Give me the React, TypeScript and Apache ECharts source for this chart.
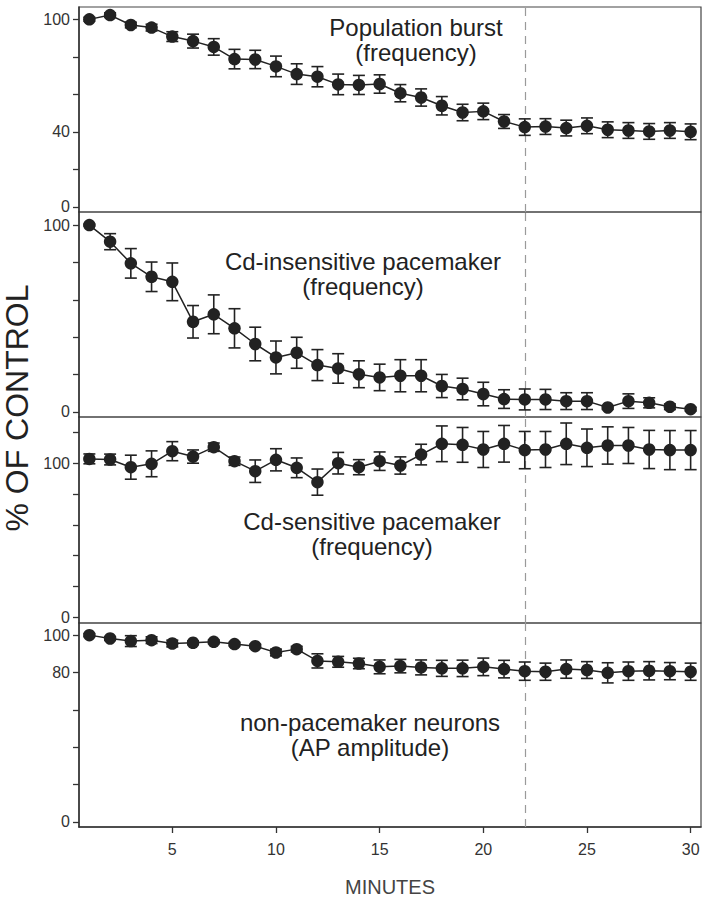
import React, { useEffect, useRef } from "react";
import * as echarts from "echarts";

const minutes = [1, 2, 3, 4, 5, 6, 7, 8, 9, 10, 11, 12, 13, 14, 15, 16, 17, 18, 19, 20, 21, 22, 23, 24, 25, 26, 27, 28, 29, 30];

// Panel 1: Population burst (frequency)
const burstMean = [100, 102.3, 97, 95.6, 90.8, 88.4, 85.3, 78.8, 78.6, 74.9, 70.8, 69.4, 65.3, 65, 65.5, 60.6, 58.3, 53.9, 50.3, 50.9, 45.5, 42.5, 42.8, 42, 43.2, 41.1, 40.7, 40.2, 40.7, 40];
const burstErr = [1, 1.2, 1.5, 1.8, 2.6, 3.7, 4.4, 5.2, 4.9, 5.5, 5.5, 5.4, 5.5, 5.1, 4.9, 4.6, 4.6, 4.9, 4.4, 4.4, 3.7, 4.4, 4.2, 4.2, 4.2, 4.2, 4.2, 4.2, 4.2, 4.2];

// Panel 2: Cd-insensitive pacemaker (frequency)
const insensMean = [100, 91.1, 79.5, 72.3, 69.6, 48.2, 52.2, 44.7, 36.3, 29.1, 31.6, 25, 23.2, 20.1, 18.4, 19.3, 19.3, 13.8, 12.2, 9.5, 6.8, 6.6, 6.6, 5.7, 5.7, 2.3, 5.7, 4.8, 2.7, 1.4];
const insensErr = [0.5, 4.3, 7.9, 7.9, 10.1, 8.7, 10.4, 10.5, 9, 8.8, 8.3, 8.3, 7.9, 7.2, 7.1, 8.6, 8.6, 6.2, 5.8, 6.3, 5, 5.6, 5.4, 4.5, 4.5, 1, 3.9, 2.7, 1.5, 1];

// Panel 3: Cd-sensitive pacemaker (frequency)
const sensMean = [102.8, 102.4, 97.4, 99.6, 107.8, 104.3, 110.4, 101.3, 94.8, 102.2, 97, 87.7, 100, 97.4, 101.3, 98.5, 105.6, 112.6, 111.9, 108.9, 112.6, 108.5, 108.9, 112.6, 110, 111.5, 111.5, 108.9, 108.5, 108.5];
const sensErr = [3.2, 3.5, 7.8, 8.4, 6.2, 4.3, 2.7, 2.7, 7.3, 7.2, 6.4, 8.5, 7, 4.9, 6, 5.6, 6.7, 11.6, 11.3, 11.7, 11.9, 12.1, 11.7, 13.5, 12.2, 12.1, 11.7, 12.4, 12.7, 12.7];

// Panel 4: non-pacemaker neurons (AP amplitude)
const ampMean = [100, 98.2, 96.8, 97.3, 95.5, 95.9, 96.4, 95.2, 94.1, 90.7, 92.5, 86.2, 85.7, 84.8, 83, 83.4, 82.7, 82.2, 82.2, 83, 81.8, 80.7, 80.4, 81.8, 81.3, 79.8, 80.7, 80.9, 80.7, 80.4];
const ampErr = [0.8, 1, 2.9, 1.8, 1.8, 1, 1, 1, 1, 1.8, 1.5, 3.8, 2.9, 2.8, 3.7, 3.6, 4, 4.3, 4.4, 4.7, 4.7, 4.9, 4.6, 4.9, 4.5, 5.4, 4.9, 4.9, 4.6, 4.6];

const panelTitles = [
  "Population burst\n(frequency)",
  "Cd-insensitive pacemaker\n(frequency)",
  "Cd-sensitive pacemaker\n(frequency)",
  "non-pacemaker neurons\n(AP amplitude)",
];
const yTicks = [
  [0, 20, 40, 60, 80, 100],
  [0, 20, 40, 60, 80, 100],
  [0, 20, 40, 60, 80, 100, 120],
  [0, 20, 40, 60, 80, 100],
];
const yLabels = [
  [0, 40, 100],
  [0, 100],
  [0, 100],
  [0, 80, 100],
];
const xTicks = [5, 10, 15, 20, 25, 30];
const washoutMinute = 22;

const FONT = "'Liberation Sans', Arial, Helvetica, sans-serif";
const INK = "#222";

export default function App() {
  const ref = useRef<HTMLDivElement>(null);

  useEffect(() => {
    if (!ref.current) return;
    const chart = echarts.init(ref.current, null, { renderer: "svg" });

    const means = [burstMean, insensMean, sensMean, ampMean];
    const errs = [burstErr, insensErr, sensErr, ampErr];
    const gridTops = [7, 212, 417, 623];
    const gridHeights = [205, 205, 206, 204];
    const yMins = [-2.8, -2.8, -3.8, -2.8];
    const yMaxs = [106.6, 107, 130, 106.5];
    const titlePos = [
      [416, 40],
      [363, 274],
      [372, 534],
      [370, 735],
    ];

    const grid = gridTops.map((t, i) => ({
      left: 79,
      right: 7,
      top: t,
      height: gridHeights[i],
      show: true,
      borderColor: "#444",
      borderWidth: 1.2,
      outerBoundsMode: "none",
      containLabel: false,
    }));

    const xAxis = gridTops.map((_, i) => {
      const last = i === 3;
      return {
        type: "value",
        gridIndex: i,
        min: 0.5,
        max: 30.5,
        show: last,
        splitLine: { show: false },
        axisLine: { show: last, onZero: false, lineStyle: { color: "#333", width: 1.5 } },
        axisTick: {
          show: last,
          customValues: xTicks,
          length: 6,
          lineStyle: { color: "#333", width: 1.3 },
        },
        axisLabel: {
          show: last,
          customValues: xTicks,
          margin: 14,
          color: "#333",
          fontSize: 16,
          fontFamily: FONT,
        },
        name: last ? "MINUTES" : "",
        nameLocation: "middle",
        nameGap: 50,
        nameTextStyle: { color: "#444", fontSize: 20, fontFamily: FONT },
      };
    });

    const yAxis = gridTops.map((_, i) => ({
      type: "value",
      gridIndex: i,
      min: yMins[i],
      max: yMaxs[i],
      splitLine: { show: false },
      axisLine: { show: true, onZero: false, lineStyle: { color: "#333", width: 1.5 } },
      axisTick: {
        show: true,
        customValues: yTicks[i],
        length: 6,
        lineStyle: { color: "#333", width: 1.3 },
      },
      axisLabel: {
        show: true,
        customValues: yLabels[i],
        margin: 9,
        color: "#333",
        fontSize: 16,
        fontFamily: FONT,
      },
    }));

    const series: any[] = [];
    means.forEach((m, i) => {
      series.push({
        type: "custom",
        xAxisIndex: i,
        yAxisIndex: i,
        silent: true,
        z: 2,
        data: minutes.map((x, k) => [x, m[k] - errs[i][k], m[k] + errs[i][k]]),
        encode: { x: 0, y: [1, 2] },
        renderItem: (_params: any, api: any) => {
          const x = api.value(0);
          const top = api.coord([x, api.value(2)]);
          const bot = api.coord([x, api.value(1)]);
          const w = 6;
          const style = { stroke: INK, lineWidth: 1.6, fill: "none" };
          return {
            type: "group",
            children: [
              { type: "line", shape: { x1: top[0], y1: top[1], x2: bot[0], y2: bot[1] }, style },
              { type: "line", shape: { x1: top[0] - w, y1: top[1], x2: top[0] + w, y2: top[1] }, style },
              { type: "line", shape: { x1: bot[0] - w, y1: bot[1], x2: bot[0] + w, y2: bot[1] }, style },
            ],
          };
        },
      });
      series.push({
        type: "line",
        xAxisIndex: i,
        yAxisIndex: i,
        z: 3,
        data: minutes.map((x, k) => [x, m[k]]),
        symbol: "circle",
        symbolSize: 12.5,
        itemStyle: { color: INK },
        lineStyle: { color: INK, width: 1.5 },
        silent: true,
        markLine: {
          silent: true,
          symbol: ["none", "none"],
          label: { show: false },
          lineStyle: { color: "#9a9a9a", type: [8, 6], width: 1.2 },
          data: [{ xAxis: washoutMinute }],
          z: 1,
        },
      });
    });

    const graphic: any[] = panelTitles.map((t, i) => ({
      type: "text",
      x: titlePos[i][0],
      y: titlePos[i][1],
      silent: true,
      style: {
        text: t,
        fill: INK,
        font: `24px ${FONT}`,
        textAlign: "center",
        textVerticalAlign: "middle",
        lineHeight: 25,
      },
    }));
    graphic.push({
      type: "text",
      x: 17,
      y: 408,
      rotation: Math.PI / 2,
      silent: true,
      style: {
        text: "% OF CONTROL",
        fill: INK,
        font: `32px ${FONT}`,
        textAlign: "center",
        textVerticalAlign: "middle",
      },
    });

    chart.setOption({
      animation: false,
      backgroundColor: "#fff",
      grid,
      xAxis,
      yAxis,
      series,
      graphic,
    });

    return () => chart.dispose();
  }, []);

  return (
    <div
      ref={ref}
      style={{ position: "fixed", left: 0, top: 0, width: 708, height: 899 }}
    />
  );
}
